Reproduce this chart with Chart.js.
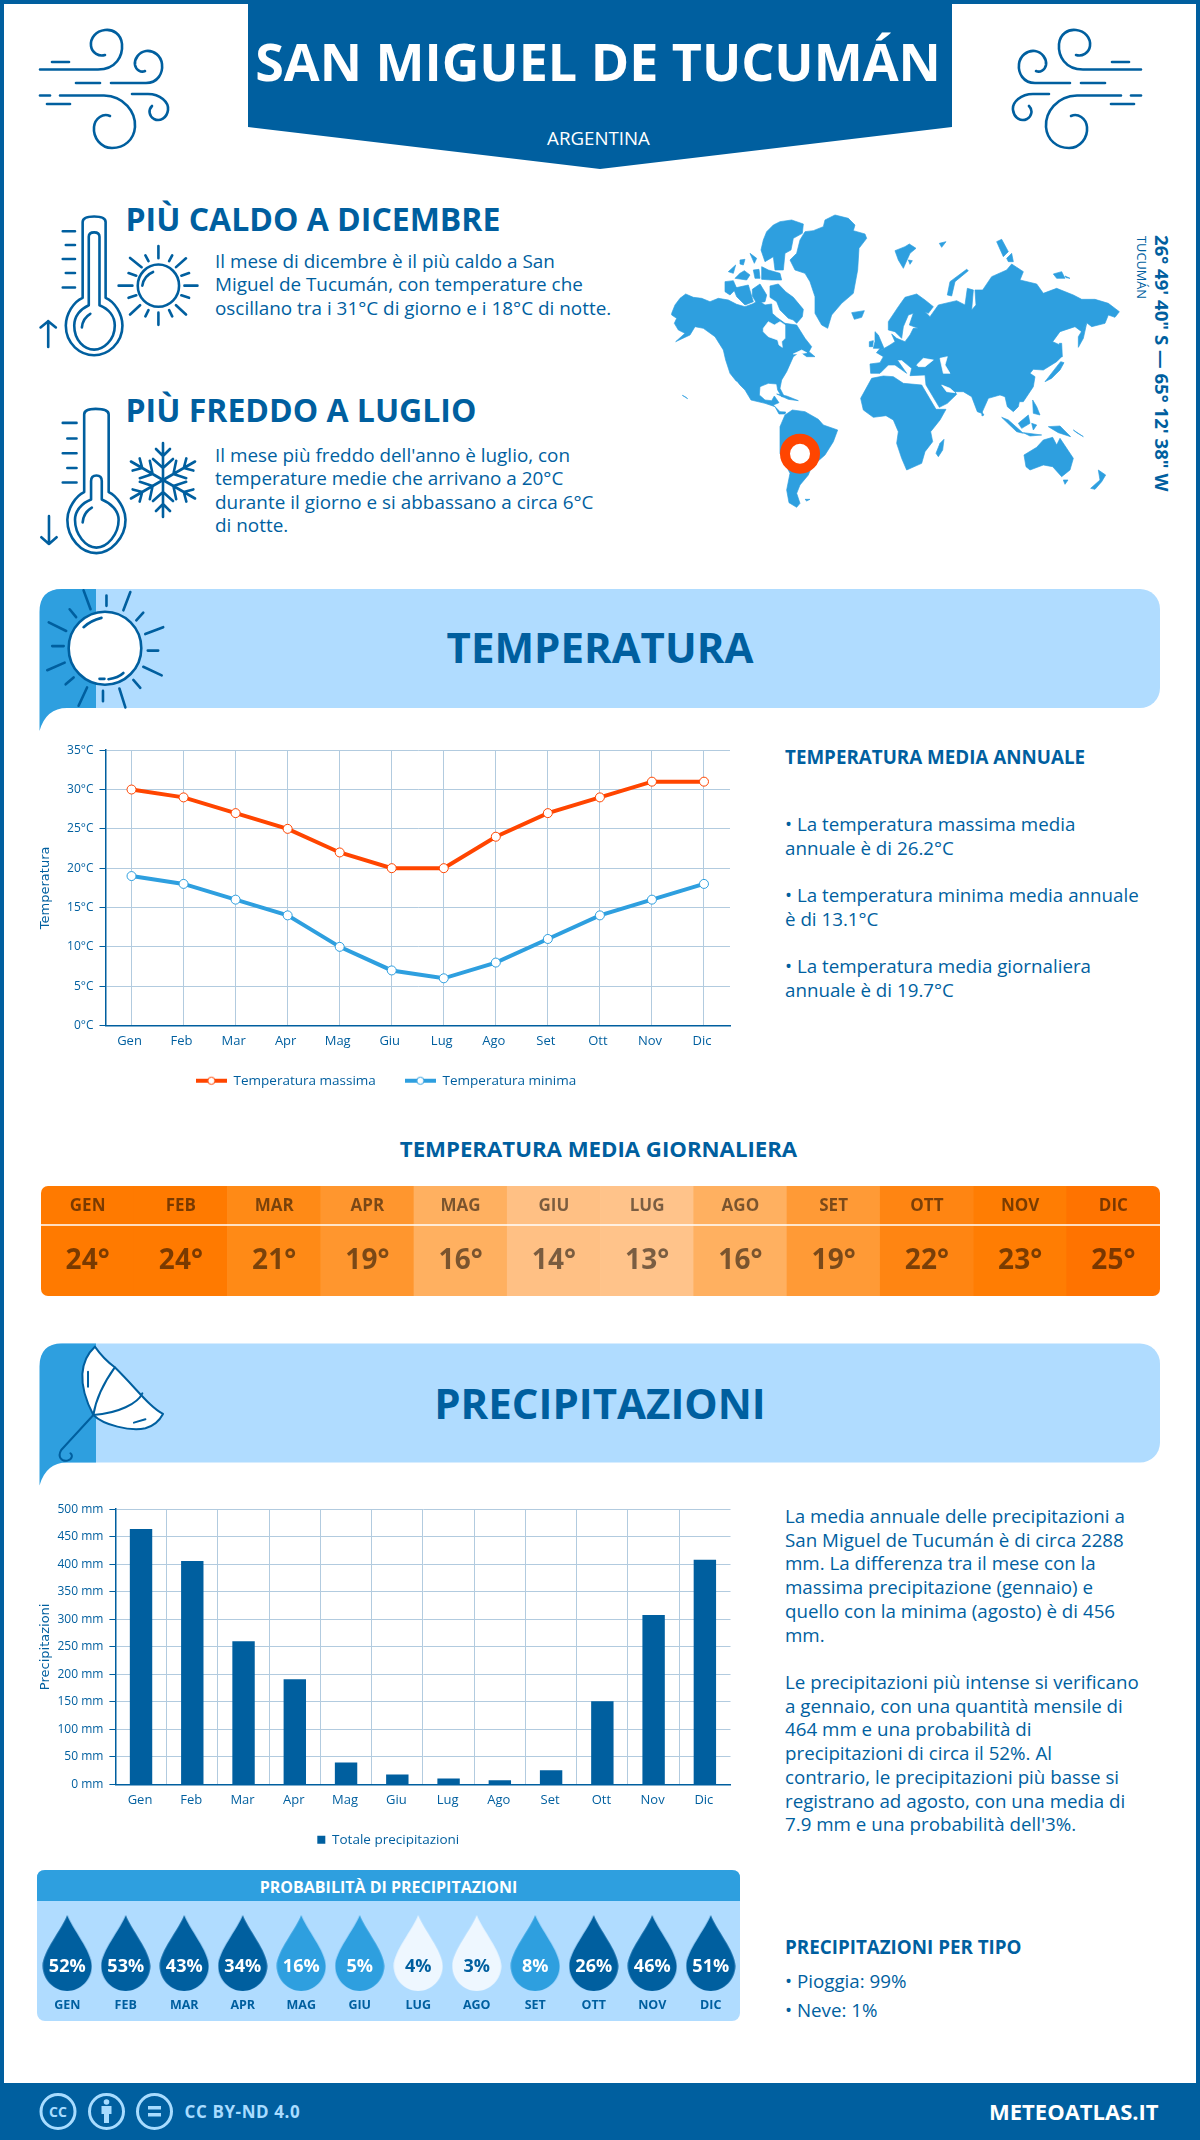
<!DOCTYPE html>
<html lang="it">
<head>
<meta charset="utf-8">
<title>San Miguel de Tucumán</title>
<script src="https://cdn.jsdelivr.net/npm/chart.js@4"></script>
<style>
html,body{margin:0;padding:0;background:#fff}
#page{position:relative;width:1200px;height:2140px;overflow:hidden;background:#fff;font-family:"Open Sans",sans-serif;color:#005f9f}
#frame{position:absolute;left:0;top:0;width:1192px;height:2083px;border:4px solid #005f9f;border-bottom:0}
.t{position:absolute;white-space:nowrap;margin:0}
.c{text-align:center}
.art{position:absolute;left:0;top:0;width:1200px;height:2140px;pointer-events:none}
.ink{fill:none;stroke:#005f9f;stroke-width:2.6;stroke-linecap:round;stroke-linejoin:round;vector-effect:non-scaling-stroke}
.ink *{vector-effect:non-scaling-stroke}
.box{position:absolute}
canvas{display:block}
.h2{font-size:32px;font-weight:700;line-height:40px}
.body{font-size:18.9px;line-height:23.4px}
.sec{font-size:42px;font-weight:700;line-height:50px;left:0;width:1200px;text-align:center}
.side{font-size:18.8px;font-weight:700;line-height:26px;left:785px}
.para{font-size:18.75px;line-height:23.7px;left:785px}
</style>
</head>
<body>
<div id="page">
<div id="frame"></div>

<svg class="art" viewBox="0 0 1200 2140" xmlns="http://www.w3.org/2000/svg">
  <defs>
    <g id="wind" class="ink" fill="none" stroke="#005f9f" stroke-width="2.8" stroke-linecap="round">
      <path d="M40 69.5H98C116 69.5 123 56 122 44C121 34 113 29 105 30C96 31 90 38 91 46C92 53 99 57 105 55"/>
      <path d="M52 62H69"/>
      <path d="M76 83H100"/>
      <path d="M111 83H146C158 83 163 73 162 64C161 56 154 50 146 51C139 52 134 59 135 65C136 70 141 73 145 71"/>
      <path d="M40 95.5H50"/>
      <path d="M60 95.5H104C124 96 136 112 135 127C134 140 124 148 112 148C101 148 93 138 94 127C95 118 103 113 110 116"/>
      <path d="M47 104H70"/>
      <path d="M132 94H148C160 94 169 102 168 110C167 118 160 122 154 119C149 116 148 110 152 106"/>
    </g>
    <g id="arm">
      <path d="M0 0V-37M-7 -31L0 -24L7 -31M-10 -21L0 -12L10 -21"/>
    </g>
    <g id="banner">
      <rect x="40" y="589" width="1120" height="119" rx="20" fill="#b0dcff"/>
      <path d="M39.500 731V612Q39.500 589 62 589H96V708H67Q46 708 39.500 731Z" fill="#2e9fdf"/>
    </g>
  </defs>

  <!-- header -->
  <path d="M248 0H952V127L600 169L248 127Z" fill="#005f9f"/>
  <use href="#wind"/>
  <use href="#wind" transform="translate(1181,0) scale(-1,1)"/>

  <!-- hot thermometer -->
  <g class="ink" transform="scale(.7653,.37)">
    <path d="M108 600Q108 585 123 585Q138 585 138 600V805C150 815 160 850 160 880C160 930 140 960 123 960C105 960 86 930 86 880C86 850 96 815 108 805Z"/>
    <path d="M116 640Q116 628 123 628Q130 628 130 640V825C142 835 150 855 150 880C150 920 135 945 123 945C110 945 97 920 97 880C97 855 105 835 116 825Z"/>
    <path d="M107 885Q108 860 118 848"/>
    <path d="M82 625H98M86 662H98M82 700H98M86 738H98M82 777H98"/>
    <path d="M63 938V868M53 885L63 868L73 885"/>
    <ellipse cx="207" cy="772" rx="27" ry="57"/>
    <path d="M186 772Q188 745 200 735"/>
    <path d="M207 665V698M207 845V878M155 772H173M241 772H258M170 697L185 722M243 698L230 722M170 850L183 825M243 850L230 825M190 690L194 706M225 690L221 706M168 738L178 745M247 738L237 745M168 805L178 798M247 805L237 798M190 855L194 838M225 855L221 838"/>
  </g>
  <!-- cold thermometer -->
  <g class="ink" transform="scale(.7653,.37)">
    <path d="M110 1120Q110 1105 125 1105Q142 1105 142 1120V1330C153 1340 164 1375 164 1405C164 1455 144 1495 126 1495C106 1495 88 1455 88 1405C88 1375 99 1340 110 1330Z"/>
    <path d="M119 1300Q119 1285 126 1285Q133 1285 133 1300V1350C145 1360 155 1380 155 1405C155 1445 140 1480 126 1480C112 1480 98 1445 98 1405C98 1380 107 1360 119 1350Z"/>
    <path d="M108 1412Q109 1385 120 1372"/>
    <path d="M82 1143H100M88 1185H100M82 1225H100M88 1265H100M82 1304H100"/>
    <path d="M64 1470V1395M54 1452L64 1470L74 1452"/>
  </g>
  <g class="ink" transform="translate(163,480)">
    <use href="#arm"/>
    <use href="#arm" transform="rotate(60)"/>
    <use href="#arm" transform="rotate(120)"/>
    <use href="#arm" transform="rotate(180)"/>
    <use href="#arm" transform="rotate(240)"/>
    <use href="#arm" transform="rotate(300)"/>
  </g>

  <!-- world map: decoration -->
  <g transform="translate(665,210) scale(.33333)" fill="#2e9fdf" stroke="#2e9fdf" stroke-width="2" stroke-linejoin="round">
    <path d="M20 310L30 285L45 265L62 252L85 262L110 265L135 275L160 265L190 270L215 283L240 290L262 282L280 272L300 285L320 282L322 310L335 322L360 340L395 345L420 385L440 410L432 425L450 440L425 440L405 425L385 440L365 485L350 510L345 535L358 560L350 560L338 540L335 522L310 520L285 530L283 555L300 570L320 572L328 558L342 578L325 585L345 605L362 606L360 612L342 612L330 590L300 580L258 570L240 540L215 515L195 490L182 450L175 420L150 380L115 355L90 350L75 375L32 395L60 370L40 360L28 340L35 325L20 315Z"/>
    <path d="M345 650L360 615L382 600L420 605L460 628L475 645L518 660L505 695L480 735L440 770L430 795L405 825L395 850L405 880L395 892L372 878L365 840L375 790L345 730Z"/>
    <path d="M375 150L395 130L405 90L420 65L445 62L475 50L480 30L510 15L550 25L570 45L565 62L600 72L605 85L582 115L578 180L565 250L530 280L500 315L488 355L470 345L450 310L450 260L435 215L420 190L390 180Z"/>
    <path d="M345 35L380 30L415 42L412 70L385 85L378 120L360 130L355 180L330 180L325 140L300 155L288 120L295 90L305 65L325 45Z"/>
    <path d="M315 228L340 222L362 245L385 262L415 298L412 320L395 340L385 330L370 325L345 300L335 275L315 262Z"/>
    <path d="M262 238L285 222L305 255L300 275L275 280L262 258Z"/>
    <path d="M180 215L205 212L215 235L195 255L180 245Z"/>
    <path d="M205 235L250 225L265 275L240 285L215 260Z"/>
    <path d="M190 185L212 165L205 190Z"/>
    <path d="M238 182L255 195L245 210L210 205L225 190Z"/>
    <path d="M225 150L240 148L235 165L225 162Z"/>
    <path d="M255 130L275 145L268 160Z"/>
    <path d="M265 180L282 178L285 205L270 205Z"/>
    <path d="M290 170L310 180L345 190L350 210L320 210L290 208Z"/>
    <path d="M560 308L598 302L590 322L568 328Z"/>
    <path d="M420 868L435 868L425 873Z"/>
    <path d="M52 556L68 566L60 560Z"/>
    <path d="M335 552L365 558L400 572L370 568Z"/>
    <g fill="#fff" stroke="#fff">
      <path d="M295 355L310 335L328 345L345 335L360 345L360 385L350 395L352 412L342 405L338 390L310 380L295 365Z"/>
      <path d="M215 515L240 550L235 552L212 518Z"/>
      <path d="M385 432L410 420L425 428L400 432Z"/>
    </g>
  </g>
  <g transform="translate(860,210) scale(.33333)" fill="#2e9fdf" stroke="#2e9fdf" stroke-width="2" stroke-linejoin="round">
    <path d="M30 462L60 458L70 440L50 428L90 405L105 395L95 372L110 385L135 395L150 375L160 355L175 355L148 345L160 310L145 315L130 350L125 385L105 365L85 360L85 335L115 290L135 262L170 252L195 270L220 290L205 310L195 305L210 320L235 285L290 272L315 285L322 235L340 240L335 300L348 285L345 240L368 240L395 200L440 180L455 162L490 185L480 210L530 222L550 250L590 235L640 255L665 268L705 268L745 280L778 305L765 322L745 315L735 340L695 350L680 338L665 365L645 350L600 365L578 395L600 405L605 440L590 455L550 480L520 478L510 490L525 500L520 530L490 575L478 575L475 590L460 605L442 590L435 560L420 555L385 565L365 610L352 605L335 560L310 545L285 545L290 553L262 580L238 592L198 525L195 495L150 497L155 475L125 450L112 450L140 490L105 465L85 465L60 490L32 490Z"/>
    <path d="M2 565L35 505L70 498L100 500L130 520L185 525L228 598L258 598L240 630L212 665L218 695L195 725L185 760L140 780L125 745L110 700L115 665L100 630L78 617L40 622L10 600Z"/>
    <path d="M240 700L252 688L248 720L235 740L228 730Z"/>
    <path d="M492 735L530 712L550 690L578 682L590 705L600 685L640 745L630 780L605 800L578 770L550 765L510 780L498 770Z"/>
    <path d="M610 810L624 810L615 823Z"/>
    <path d="M692 835L720 810L715 780L737 795L725 815L705 838Z"/>
    <path d="M655 380L680 340L670 385L655 412Z"/>
    <path d="M555 515L590 470L602 455L612 458L600 480L575 505Z"/>
    <path d="M598 400L605 400L607 440L600 440Z"/>
    <path d="M425 622L445 630L490 670L470 665Z"/>
    <path d="M490 668L545 675L510 678Z"/>
    <path d="M475 640L505 615L510 640L485 655Z"/>
    <path d="M515 640L530 645L520 660Z"/>
    <path d="M565 650L600 648L632 680L595 668Z"/>
    <path d="M518 570L530 590L540 615L520 610Z"/>
    <path d="M365 605L372 615L366 618Z"/>
    <path d="M640 660L670 680L650 668Z"/>
    <path d="M262 255L270 215L320 178L325 182L285 215L275 258Z"/>
    <path d="M105 122L135 110L148 102L168 115L150 130L130 175L115 150Z"/>
    <path d="M145 150L157 152L150 163Z"/>
    <path d="M238 100L258 95L245 112Z"/>
    <path d="M410 95L425 88L445 125L430 140Z"/>
    <path d="M440 145L455 130L460 155L445 155Z"/>
    <path d="M580 192L605 185L615 205L590 205Z"/>
    <path d="M615 198L630 205L618 203Z"/>
    <path d="M45 365L55 375L72 415L50 428L60 415L40 415L45 395Z"/>
    <path d="M28 395L40 392L38 410L28 410Z"/>
    <g fill="#fff" stroke="#fff">
      <path d="M170 465L190 445L220 450L195 470L175 470Z"/>
      <path d="M240 445L262 440L255 465L270 490L250 490Z"/>
      <path d="M245 525L270 535L285 548L260 545Z"/>
    </g>
  </g>
  <circle cx="800" cy="453.700" r="15" fill="#fff" stroke="#ff4500" stroke-width="10"/>

  <!-- section banners -->
  <use href="#banner"/>
  <use href="#banner" transform="translate(0,754.500)"/>

  <!-- sun -->
  <g class="ink" transform="translate(0,580) scale(.4975,.3444)">
    <ellipse cx="211" cy="198" rx="73" ry="106" fill="#fff" style="fill:#fff"/>
    <path d="M168 137Q182 118 204 110M200 287H210M218 288Q238 284 248 270"/>
    <path d="M168 30L182 85M262 35L248 88M328 137L292 157M325 277L288 252M252 370L240 315M158 365L175 312M95 262L130 240M98 123L133 148M214 45V75M288 95L274 117M297 205H318M268 290L282 313M207 322V352M132 303L148 283M105 192H128M140 85L153 108"/>
  </g>

  <!-- umbrella -->
  <g class="ink" style="stroke-width:2" transform="translate(0,1120) scale(.7653,.3333)">
    <path d="M124 680C105 720 100 790 122 885C135 915 170 935 190 925C205 915 210 895 213 882C195 860 180 810 150 742C140 725 130 700 124 680Z" style="fill:#fff"/>
    <path d="M150 742C135 790 125 840 122 885M186 820C180 850 155 880 122 885M115 755V800M175 908L190 898"/>
    <path d="M122 885L80 990C75 1010 80 1025 88 1022C95 1018 95 1005 92 1000"/>
  </g>

  <!-- probability panel -->
  <rect x="37" y="1870" width="703" height="151" rx="8" fill="#b0dcff"/>
  <path d="M37 1901V1878Q37 1870 45 1870H732Q740 1870 740 1878V1901Z" fill="#2e9fdf"/>

  <!-- footer -->
  <rect x="0" y="2083" width="1200" height="57" fill="#005f9f"/>
  <g fill="none" stroke="#a8dcff" stroke-width="3">
    <circle cx="58" cy="2111.500" r="17"/>
    <circle cx="106.500" cy="2111.500" r="17"/>
    <circle cx="154.500" cy="2111.500" r="17"/>
  </g>
  <text x="58" y="2116.500" text-anchor="middle" font-family="Open Sans" font-weight="700" font-size="14" fill="#a8dcff">CC</text>
  <g fill="#a8dcff">
    <circle cx="106.500" cy="2102" r="2.800"/>
    <path d="M101.500 2106H111.500V2114H109V2123H104V2114H101.500Z"/>
    <rect x="148" y="2106" width="13" height="3.500"/>
    <rect x="148" y="2113" width="13" height="3.500"/>
  </g>
</svg>

<!-- charts -->
<div class="box" style="left:30px;top:737px;width:715px;height:371px"><canvas id="tempChart"></canvas></div>
<div class="box" id="heatBox" style="left:41px;top:1186px;width:1119px;height:110px;border-radius:7px;overflow:hidden"><canvas id="heatChart"></canvas></div>
<div class="box" style="left:30px;top:1496px;width:715px;height:371px"><canvas id="rainChart"></canvas></div>
<div class="box" style="left:38px;top:1901px;width:702px;height:120px"><canvas id="dropChart"></canvas></div>

<!-- header text -->
<h1 class="t c" style="left:0;width:1196px;top:31px;font-size:52px;line-height:60px;font-weight:700;color:#fff">SAN MIGUEL DE TUCUMÁN</h1>
<p class="t c" style="left:0;width:1197px;top:126px;font-size:18.7px;line-height:24px;color:#fff">ARGENTINA</p>

<h2 class="t h2" style="left:125.500px;top:199px">PIÙ CALDO A DICEMBRE</h2>
<p class="t body" style="left:215px;top:250px">Il mese di dicembre è il più caldo a San<br>Miguel de Tucumán, con temperature che<br>oscillano tra i 31°C di giorno e i 18°C di notte.</p>
<h2 class="t h2" style="left:125.500px;top:390px">PIÙ FREDDO A LUGLIO</h2>
<p class="t body" style="left:215px;top:444px">Il mese più freddo dell'anno è luglio, con<br>temperature medie che arrivano a 20°C<br>durante il giorno e si abbassano a circa 6°C<br>di notte.</p>

<div class="t" style="left:1151px;top:235px;writing-mode:vertical-rl;font-size:18.6px;line-height:22px;font-weight:700">26° 49' 40" S — 65° 12' 38" W</div>
<div class="t" style="left:1134px;top:236px;writing-mode:vertical-rl;font-size:12.800px;line-height:16px">TUCUMÁN</div>

<h2 class="t sec" style="top:622px;margin:0">TEMPERATURA</h2>
<h2 class="t sec" style="top:1378px;margin:0">PRECIPITAZIONI</h2>

<h3 class="t side" style="top:744px">TEMPERATURA MEDIA ANNUALE</h3>
<p class="t para" style="top:812px;line-height:24px">• La temperatura massima media<br>annuale è di 26.2°C</p>
<p class="t para" style="top:883px;line-height:24px">• La temperatura minima media annuale<br>è di 13.1°C</p>
<p class="t para" style="top:954px;line-height:24px">• La temperatura media giornaliera<br>annuale è di 19.7°C</p>

<h3 class="t c" style="left:0;width:1197px;top:1135px;font-size:22.2px;line-height:28px;font-weight:700;margin:0">TEMPERATURA MEDIA GIORNALIERA</h3>

<p class="t para" style="top:1504px">La media annuale delle precipitazioni a<br>San Miguel de Tucumán è di circa 2288<br>mm. La differenza tra il mese con la<br>massima precipitazione (gennaio) e<br>quello con la minima (agosto) è di 456<br>mm.</p>
<p class="t para" style="top:1670px">Le precipitazioni più intense si verificano<br>a gennaio, con una quantità mensile di<br>464 mm e una probabilità di<br>precipitazioni di circa il 52%. Al<br>contrario, le precipitazioni più basse si<br>registrano ad agosto, con una media di<br>7.9 mm e una probabilità dell'3%.</p>

<h3 class="t side" style="top:1934px">PRECIPITAZIONI PER TIPO</h3>
<p class="t para" style="top:1965.500px;line-height:29px">• Pioggia: 99%<br>• Neve: 1%</p>

<div class="t c" style="left:37px;width:703px;top:1875px;font-size:16px;line-height:24px;font-weight:700;color:#fff">PROBABILITÀ DI PRECIPITAZIONI</div>

<div class="t" style="left:184.500px;top:2100px;font-size:17px;line-height:24px;font-weight:700;color:#a8dcff;letter-spacing:.6px">CC BY-ND 4.0</div>
<div class="t" style="left:989px;top:2096px;font-size:22px;line-height:30px;font-weight:700;color:#fff">METEOATLAS.IT</div>
</div>

<script>
// ---- data ----
const months = ['Gen','Feb','Mar','Apr','Mag','Giu','Lug','Ago','Set','Ott','Nov','Dic'];
const monthsUpper = ['GEN','FEB','MAR','APR','MAG','GIU','LUG','AGO','SET','OTT','NOV','DIC'];
const tempMax = [30,29,27,25,22,20,20,24,27,29,31,31];
const tempMin = [19,18,16,14,10,7,6,8,11,14,16,18];
const tempAvg = [24,24,21,19,16,14,13,16,19,22,23,25];
const rainMm = [464,406,260,191,40,18,11,7.9,26,151,308,408];
const rainProb = [52,53,43,34,16,5,4,3,8,26,46,51];
const seriesMaxName = 'Temperatura massima';
const seriesMinName = 'Temperatura minima';
const seriesRainName = 'Totale precipitazioni';
const heatColors = ['#ff7a00','#ff7a00','#ff8a16','#ff962e','#ffb060','#ffc084','#ffc38a','#ffb060','#ff9a36','#ff8512','#ff7d03','#ff7300'];

// ---- styling ----
const DARK = '#005f9f', MID = '#2e9fdf', PALE = '#eef7ff', ORANGE = '#ff4500', GRID = '#b2cbdf';
Chart.defaults.font.family = '"Open Sans", sans-serif';
Chart.defaults.color = DARK;
Chart.defaults.animation = false;
Chart.defaults.responsive = false;
Chart.defaults.maintainAspectRatio = false;

function sizeCanvas(id){
  const c = document.getElementById(id), b = c.parentElement;
  c.width = parseFloat(b.style.width); c.height = parseFloat(b.style.height);
  c.style.width = b.style.width; c.style.height = b.style.height;
  return c;
}
function legendSwatch(color){
  const c = document.createElement('canvas'); c.width = 31; c.height = 12;
  const x = c.getContext('2d');
  x.fillStyle = color; x.fillRect(0,4,31,4);
  x.beginPath(); x.arc(15.5,6,3.6,0,Math.PI*2); x.fillStyle='#fff'; x.fill();
  x.lineWidth=1; x.strokeStyle=color; x.stroke();
  return c;
}
function axisTitle(text){
  return {display:true,text,color:DARK,font:{family:'"DejaVu Sans"',size:13},padding:{top:8,bottom:0}};
}
// nudges the library's legend box after layout
const moveLegend = {id:'moveLegend',afterLayout(ch,args,opts){
  const l = ch.legend;
  l.left += opts.dx; l.right += opts.dx; l.top += opts.dy; l.bottom += opts.dy;
}};

// ---- temperature lines ----
new Chart(sizeCanvas('tempChart'),{
  type:'line',
  data:{labels:months,datasets:[
    {label:seriesMaxName,data:tempMax,borderColor:ORANGE,backgroundColor:'#fff',borderWidth:4,tension:0,
     pointRadius:4.5,pointBorderWidth:1,pointBorderColor:ORANGE,pointBackgroundColor:'#fff'},
    {label:seriesMinName,data:tempMin,borderColor:MID,backgroundColor:'#fff',borderWidth:4,tension:0,
     pointRadius:4.5,pointBorderWidth:1,pointBorderColor:MID,pointBackgroundColor:'#fff'}
  ]},
  options:{
    layout:{padding:{top:10.5,right:15,left:0,bottom:0}},
    plugins:{
      tooltip:{enabled:false},
      moveLegend:{dx:6,dy:-10.5},
      legend:{position:'bottom',labels:{
        usePointStyle:true,pointStyleWidth:31,padding:29,color:DARK,font:{size:13.5},
        generateLabels:(ch)=>ch.data.datasets.map((d,i)=>({text:d.label,datasetIndex:i,fontColor:DARK,
          pointStyle:legendSwatch(d.borderColor),hidden:false,lineWidth:0}))
      }}
    },
    scales:{
      x:{offset:true,
        grid:{color:GRID,offset:false,drawTicks:false,tickLength:0},
        border:{color:DARK,width:1.5},
        ticks:{padding:8,labelOffset:-2,color:DARK,font:{size:13},maxRotation:0,autoSkip:false},
        afterFit:(s)=>{s.height=30}},
      y:{min:0,max:35,
        grid:{color:GRID,tickColor:DARK,tickLength:6,lineWidth:1},
        border:{color:DARK,width:1.5},
        ticks:{stepSize:5,padding:6,color:DARK,font:{size:12},callback:(v)=>v+'°C'},
        title:axisTitle('Temperatura'),
        afterFit:(s)=>{s.width=75.5}}
    }
  },
  plugins:[moveLegend]
});

// ---- daily mean heat strip ----
const heatLabels = {id:'heatLabels',afterDatasetsDraw(ch){
  const {ctx} = ch, bars = ch.getDatasetMeta(0).data;
  ctx.save();
  ctx.strokeStyle='#fff'; ctx.lineWidth=1.5;
  ctx.beginPath(); ctx.moveTo(0,39); ctx.lineTo(ch.width,39); ctx.stroke();
  ctx.textAlign='center'; ctx.textBaseline='middle'; ctx.fillStyle='rgba(0,0,0,.52)';
  bars.forEach((b,i)=>{
    ctx.font='700 17px "Open Sans"'; ctx.fillText(monthsUpper[i],b.x,20);
    ctx.font='700 28px "Open Sans"'; ctx.fillText(tempAvg[i]+'°',b.x,75);
  });
  ctx.restore();
}};
new Chart(sizeCanvas('heatChart'),{
  type:'bar',
  data:{labels:monthsUpper,datasets:[{label:'Temperatura media giornaliera',
    data:tempAvg.map(()=>[0,1]),backgroundColor:heatColors,borderWidth:0,
    categoryPercentage:1,barPercentage:1}]},
  options:{
    plugins:{legend:{display:false},tooltip:{enabled:false}},
    scales:{x:{display:false},y:{display:false,min:0,max:1}}
  },
  plugins:[heatLabels]
});

// ---- rainfall bars ----
new Chart(sizeCanvas('rainChart'),{
  type:'bar',
  data:{labels:months,datasets:[{label:seriesRainName,data:rainMm,backgroundColor:DARK,borderWidth:0,
    categoryPercentage:1,barPercentage:.437}]},
  options:{
    layout:{padding:{top:10.3,right:14.5,left:0,bottom:0}},
    plugins:{
      tooltip:{enabled:false},
      moveLegend:{dx:8,dy:-10.5},
      legend:{position:'bottom',labels:{usePointStyle:true,pointStyle:'rect',boxWidth:8,boxHeight:8,padding:29,color:DARK,font:{size:13.5}}}
    },
    scales:{
      x:{grid:{color:(c)=>c.type==='tick'?GRID:'transparent',drawTicks:false,tickLength:0},
        border:{color:DARK,width:1.5},
        ticks:{padding:8,labelOffset:-1,color:DARK,font:{size:13},maxRotation:0,autoSkip:false},
        afterFit:(s)=>{s.height=30}},
      y:{min:0,max:500,
        grid:{color:GRID,tickColor:DARK,tickLength:6,lineWidth:1},
        border:{color:DARK,width:1.5},
        ticks:{stepSize:50,padding:6,color:DARK,font:{size:12},callback:(v)=>v+' mm'},
        title:axisTitle('Precipitazioni'),
        afterFit:(s)=>{s.width=85.4}}
    }
  },
  plugins:[moveLegend]
});

// ---- rain chance drops ----
function dropColor(p){return p>=20?DARK:(p>=5?MID:PALE);}
function dropImage(color){
  const c=document.createElement('canvas'); c.width=50; c.height=76;
  const x=c.getContext('2d');
  x.beginPath(); x.moveTo(25,0);
  x.bezierCurveTo(30,14,49.5,36,49.5,51);
  x.bezierCurveTo(49.5,65,38,76,25,76);
  x.bezierCurveTo(12,76,.5,65,.5,51);
  x.bezierCurveTo(.5,36,20,14,25,0);
  x.closePath(); x.fillStyle=color; x.fill();
  return c;
}
const dropLabels = {id:'dropLabels',afterDatasetsDraw(ch){
  const {ctx}=ch, pts=ch.getDatasetMeta(0).data;
  ctx.save(); ctx.textAlign='center'; ctx.textBaseline='middle';
  ctx.font='700 18px "Open Sans"';
  pts.forEach((p,i)=>{
    ctx.fillStyle = rainProb[i]>=5?'#fff':DARK;
    ctx.fillText(rainProb[i]+'%',p.x,p.y+14);
  });
  ctx.restore();
}};
new Chart(sizeCanvas('dropChart'),{
  type:'line',
  data:{labels:monthsUpper,datasets:[{label:'Probabilità di precipitazioni',showLine:false,
    data:monthsUpper.map((m,i)=>({x:m,y:'riga',p:rainProb[i]})),
    pointStyle:rainProb.map(p=>dropImage(dropColor(p))),pointRadius:25}]},
  options:{
    layout:{autoPadding:false,padding:{top:12}},
    plugins:{legend:{display:false},tooltip:{enabled:false}},
    scales:{
      x:{type:'category',offset:true,labels:monthsUpper,grid:{display:false,drawTicks:false,tickLength:0},border:{display:false},
        ticks:{padding:5,color:DARK,font:{size:12.5,weight:'700'},maxRotation:0,autoSkip:false,
          callback:(v,i)=>monthsUpper[i]},
        afterFit:(s)=>{s.height=28}},
      y:{type:'category',labels:['riga'],offset:true,display:false}
    }
  },
  plugins:[dropLabels]
});
</script>
</body>
</html>
